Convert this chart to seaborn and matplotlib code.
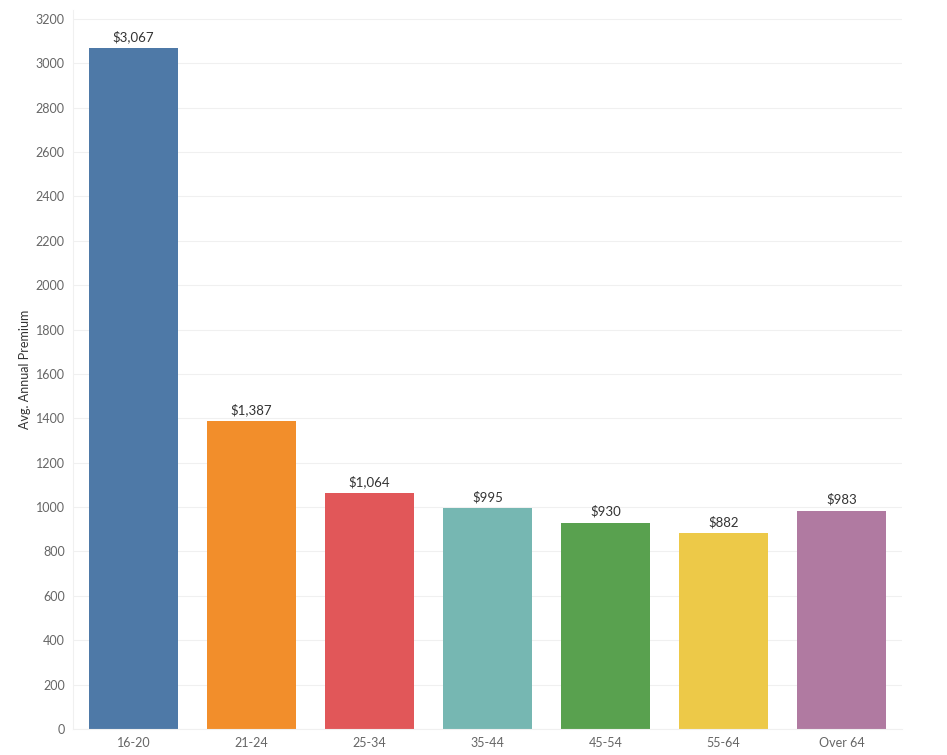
import matplotlib
matplotlib.use("Agg")
import matplotlib.pyplot as plt
import seaborn as sns
import pandas as pd

age_groups = ["16-20", "21-24", "25-34", "35-44", "45-54", "55-64", "Over 64"]
premiums = [3067, 1387, 1064, 995, 930, 882, 983]
bar_colors = ["#4e79a7", "#f28e2b", "#e15759", "#76b7b2", "#59a14f", "#edc948", "#b07aa1"]
y_ticks = list(range(0, 3201, 200))

sns.set_style("white")
plt.rcParams["font.family"] = ["Lato", "DejaVu Sans"]

df = pd.DataFrame({"age": age_groups, "premium": premiums})

fig = plt.figure(figsize=(9.47, 7.55), dpi=100)
ax = fig.add_axes([73 / 947, 26 / 755, (902 - 73) / 947, (745 - 26) / 755])

sns.barplot(data=df, x="age", y="premium", hue="age", palette=bar_colors,
            width=0.755, legend=False, ax=ax, saturation=1, linewidth=0)

for i, v in enumerate(premiums):
    ax.text(i, v + 22, f"${v:,}", ha="center", va="bottom", fontsize=9.5, color="#333333")

ax.set_xlim(-0.513, 6.513)
ax.set_ylim(0, 3240)
ax.set_yticks(y_ticks)
ax.set_yticklabels([str(t) for t in y_ticks])
ax.yaxis.grid(True, color="#f0f0f0", linewidth=0.8)
ax.set_axisbelow(True)
ax.tick_params(axis="both", length=0, labelsize=9, colors="#666666", pad=6)
ax.tick_params(axis="y", pad=6)
for s in ["top", "right"]:
    ax.spines[s].set_visible(False)
for s in ["left", "bottom"]:
    ax.spines[s].set_color("#f0f0f0")
ax.set_xlabel("")
ax.set_ylabel("Avg. Annual Premium", fontsize=9, color="#333333", labelpad=3)

fig.savefig("out.png", dpi=100)
